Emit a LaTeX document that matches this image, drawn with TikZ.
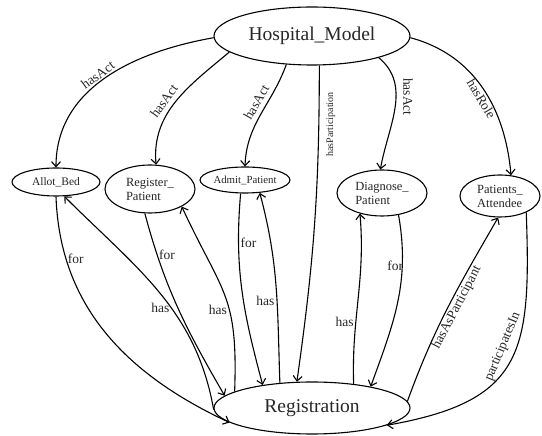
\documentclass[tikz,border=0pt]{standalone}
\usepackage{fontspec}
\setmainfont{Liberation Serif}
\usepackage{tikz}
\usetikzlibrary{arrows.meta,shapes.geometric,positioning}
\tikzstyle{concept}=[ellipse,draw,line width=1.1pt,inner sep=0pt,align=left,text=black!85]
\tikzstyle{rel}=[-{Straight Barb[length=5pt,width=9pt]},line width=1.1pt]
\tikzstyle{lbl}=[font=\fontsize{13.5}{15}\selectfont,inner sep=1.5pt,text=black!85]

\begin{document}
\begin{tikzpicture}[x=1pt,y=1pt]
  \useasboundingbox (0,0) rectangle (542,436);
  \node[concept,minimum width=196pt,minimum height=58pt,font=\fontsize{19.5}{21}\selectfont] at (312,400) (hm) {Hospital\_Model};
  \node[concept,minimum width=196pt,minimum height=52pt,font=\fontsize{19.5}{21}\selectfont] at (312,28) (reg) {Registration};
  \node[concept,minimum width=88pt,minimum height=28pt,font=\fontsize{11.5}{13}\selectfont] at (56,254) (ab) {Allot\_Bed};
  \node[concept,minimum width=90pt,minimum height=48pt,font=\fontsize{12.5}{14}\selectfont] at (150,247) (rp) {Register\_\\Patient};
  \node[concept,minimum width=90pt,minimum height=26pt,font=\fontsize{10.8}{12}\selectfont] at (245,256) (ap) {Admit\_Patient};
  \node[concept,minimum width=90pt,minimum height=46pt,font=\fontsize{12.5}{14}\selectfont] at (382,243) (dp) {Diagnose\_\\Patient};
  \node[concept,minimum width=80pt,minimum height=42pt,font=\fontsize{12.5}{14}\selectfont] at (500,240) (pa) {Patients\_\\Attendee};

  % from the model
  \draw[rel] (hm.181) to[out=190,in=90] node[lbl,sloped,above=0pt,pos=0.52] {hasAct} (ab.north);
  \draw[rel] (hm.191) to[out=220,in=95] node[lbl,sloped,above=3pt,pos=0.55] {hasAct} (rp.76);
  \draw[rel] (hm.228) to[out=250,in=88] node[lbl,sloped,above=3pt,pos=0.42] {hasAct} (ap.north);
  \draw[rel] (hm.284) to[bend left=4] node[lbl,font=\fontsize{10}{11}\selectfont,pos=0.17,xshift=12pt,rotate=90] {hasParticipation} (reg.120);
  \draw[rel] (hm.-18) to[out=-40,in=80] node[lbl,pos=0.4,xshift=12pt,rotate=-90] {hasAct} (dp.94);
  \draw[rel] (hm.-1) to[out=-15,in=95] node[lbl,sloped,below,pos=0.55] {hasRole} (pa.62);

  % acts and registration
  \draw[rel] (ab.south) to[out=-88,in=155] node[lbl,pos=0.2,right] {for} (reg.190);
  \draw[rel] (reg.181) to[out=100,in=-45] node[lbl,pos=0.42,left] {has} (ab.-60);
  \draw[rel] (rp.258) to[out=-75,in=120] node[lbl,pos=0.2,right] {for} (reg.172);
  \draw[rel] (reg.168) to[out=88,in=-65,looseness=1.3] node[lbl,pos=0.4,left=0.5pt] {has} (rp.-29);
  \draw[rel] (ap.252) to[out=-95,in=105] node[lbl,pos=0.24,right] {for} (reg.155);
  \draw[rel] (reg.142) to[out=92,in=-75] node[lbl,pos=0.42,left=0.5pt] {has} (ap.-41);
  \draw[rel] (reg.30) to[out=92,in=-85] node[lbl,pos=0.35,left] {has} (dp.223);
  \draw[rel] (dp.-53) to[out=-80,in=70] node[lbl,pos=0.28,xshift=-7pt] {for} (reg.20);
  \draw[rel] (reg.4) to[out=70,in=240] node[lbl,sloped,below,pos=0.52] {hasAsParticipant} (pa.265);
  \draw[rel] (pa.-32) to[out=-88,in=10,looseness=1.4] node[lbl,sloped,above=5pt,pos=0.45] {participatesIn} (reg.-13);
\end{tikzpicture}
\end{document}
